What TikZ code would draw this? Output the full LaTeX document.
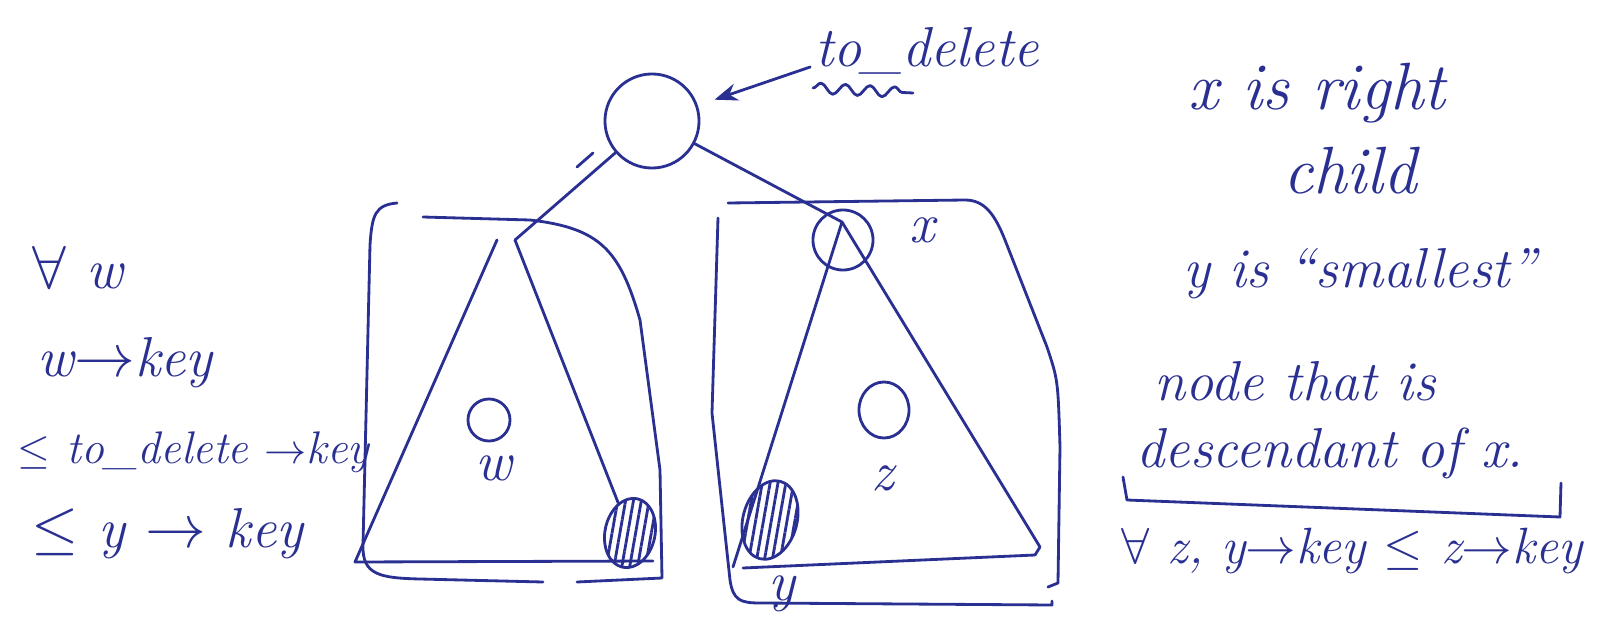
\documentclass[tikz,border=0pt]{standalone}
\usepackage{amsmath}
\usepackage{amssymb}
\usepackage{tikz}
\usetikzlibrary{arrows.meta,shapes.geometric,patterns.meta,decorations.pathmorphing}
\definecolor{ink}{RGB}{42,48,145}

\begin{document}
\begin{tikzpicture}[>=Stealth, thick, line cap=round, line join=round, x=0.01cm, y=-0.01cm,
    color=ink,
    hand/.style={font=\fontsize{16}{19}\selectfont\itshape, inner sep=1pt},
    bighand/.style={hand, font=\fontsize{19}{22}\selectfont\itshape},
    smallhand/.style={hand, font=\fontsize{13}{16}\selectfont\itshape},
    vert/.style={circle, draw, inner sep=0pt},
    hatched/.style={ellipse, draw, inner sep=0pt,
        pattern={Lines[angle=80, distance=2.2pt, line width=0.8pt]}, pattern color=ink}]
    \useasboundingbox (0,0) rectangle (1608,618);

    % Node to delete and its pointer label
    \node[vert, minimum size=0.94cm] (root) at (652,121) {};
    \node[hand, anchor=base] (todel) at (927,67) {to\_delete};
    \draw[decorate, decoration={snake, amplitude=1.5pt, segment length=7pt}] (813,88) -- (913,93);
    \draw[->, shorten >=5pt] (todel.base west) -- (root);

    % Stray tick next to the left edge
    \draw (577,167) -- (593,153);

    % Left subtree: triangle, inner node w, shaded largest node
    \coordinate (wtopL) at (497,240);
    \coordinate (wtopR) at (515,240);
    \node[vert, minimum size=0.42cm] (wnode) at (489,420) {};
    \node[hand, anchor=base] (wlab) at (494,480) {w};
    \node[hatched, minimum width=0.5cm, minimum height=0.7cm, rotate=-12] (wmax) at (630,533) {};
    \draw (root) -- (wtopR);
    \draw (wtopL) -- (355,562) -- (653,561);
    \draw (wtopR) -- (wmax);

    % Box round the left subtree
    \draw (397,203) .. controls (375,205) and (372,215) .. (370,245) -- (363,545)
        .. controls (362,575) and (380,578) .. (420,579) -- (543,582);
    \draw (423,217) -- (530,220) .. controls (600,228) and (620,250) .. (640,320)
        -- (660,470) -- (662,578) -- (577,582);

    % Right subtree: node x, triangle, inner node z, shaded smallest node y
    \node[vert, minimum size=0.6cm] (xnode) at (843,240) {};
    \node[hand, anchor=base] (xlab) at (922,242) {x};
    \coordinate (xtop) at (842,222);
    \draw (root) -- (xtop);
    \draw (xtop) -- (733,567);
    \draw (xtop) -- (1040,547) -- (1035,555);
    \draw (743,568) -- (1035,555);
    \node[vert, ellipse, minimum width=0.5cm, minimum height=0.56cm] (znode) at (884,410) {};
    \node[hand, anchor=base] (zlab) at (883,490) {z};
    \node[hatched, minimum width=0.54cm, minimum height=0.8cm, rotate=-15] (ymin) at (770,520) {};
    \node[hand, anchor=base] (ylab) at (782,600) {y};

    % Box round the right subtree
    \draw (728,203) -- (965,200) .. controls (985,200) and (995,215) .. (1005,240)
        -- (1047,347) .. controls (1058,380) .. (1060,447) -- (1058,583) -- (1048,587);
    \draw (718,218) -- (712,413) -- (730,580) .. controls (733,600) and (740,603) .. (760,603)
        -- (1052,605) -- (1052,601);

    % Notes on the left
    \node[hand, anchor=base west] (forallw) at (28,288) {$\forall$ w};
    \node[hand, anchor=base west] (wkey) at (33,376) {w$\to$key};
    \node[smallhand, anchor=base west] (lekey) at (13,463) {$\leq$ to\_delete $\to$key};
    \node[hand, anchor=base west] (ykey) at (27,547) {$\leq$ y $\to$ key};

    % Notes on the right
    \node[bighand, anchor=base] (rightch) at (1317,110) {x is right};
    \node[bighand, anchor=base] (child) at (1350,193) {child};
    \node[hand, anchor=base] (smallest) at (1360,287) {y is ``smallest''};
    \node[hand, anchor=base] (nodeis) at (1295,400) {node that is};
    \node[hand, anchor=base] (desc) at (1330,467) {descendant of x.};
    \draw (1123,477) -- (1127,500) -- (1560,517) -- (1561,483);
    \node[hand, font=\fontsize{14.5}{17}\selectfont\itshape, anchor=base] (forallz) at (1352,563)
        {$\forall$ z, y$\to$key $\leq$ z$\to$key};
\end{tikzpicture}
\end{document}
